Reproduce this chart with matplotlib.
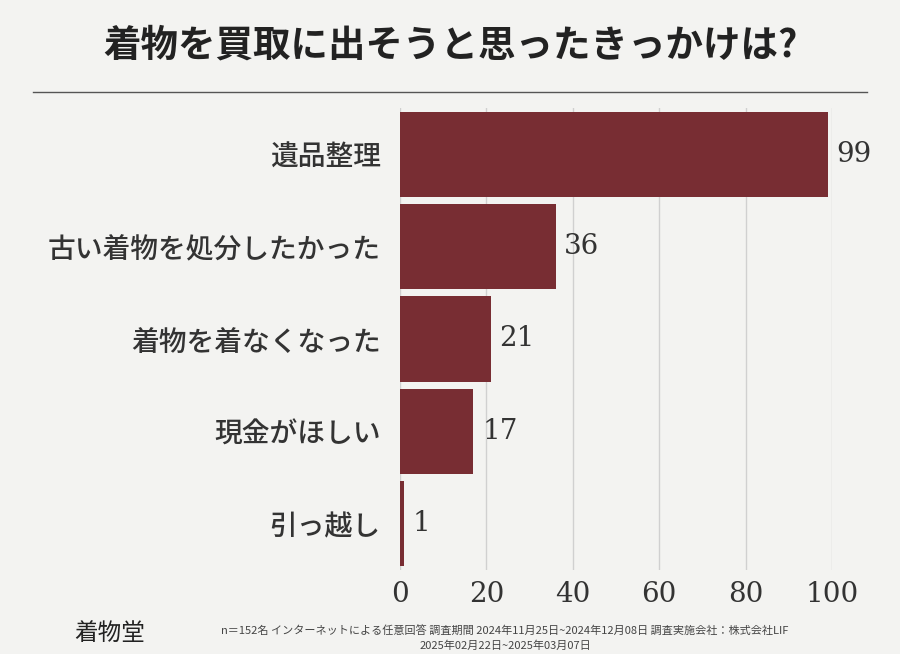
import matplotlib
matplotlib.use("Agg")
import matplotlib.pyplot as plt

categories = ["遺品整理", "古い着物を処分したかった", "着物を着なくなった", "現金がほしい", "引っ越し"]
values = [99, 36, 21, 17, 1]
xticks = [0, 20, 40, 60, 80, 100]

JP = "Noto Sans CJK JP"
bg = "#f3f3f1"
fig = plt.figure(figsize=(9, 6.54), dpi=100, facecolor=bg)
ax = fig.add_axes([400/900, 1-570/654, 432/900, 462/654], facecolor=bg)
y = list(range(len(categories)))
ax.barh(y, values, height=0.92, color="#782d33", zorder=3)
ax.set_ylim(len(categories)-0.5, -0.5)
ax.set_xlim(0, 100)
ax.set_xticks(xticks)
ax.set_xticklabels([str(t) for t in xticks], fontsize=20, color="#333", family="DejaVu Serif")
ax.set_yticks(y)
ax.set_yticklabels(categories, fontsize=20, color="#333", family=JP, fontweight="medium")
ax.tick_params(length=0, pad=14)
ax.tick_params(axis="x", pad=8)
for s in ax.spines.values():
    s.set_visible(False)
ax.grid(axis="x", color="#d0d0d0", lw=1, zorder=0)
for i, v in enumerate(values):
    ax.text(v + 2, i, str(v), va="center", ha="left", fontsize=20, color="#333", family="DejaVu Serif")

fig.text(0.5, 1-45/654, "着物を買取に出そうと思ったきっかけは?", ha="center", va="center",
         fontsize=27, fontweight="bold", family=JP, color="#222")
fig.add_artist(plt.Line2D([33/900, 867/900], [1-92/654, 1-92/654], color="#555", lw=1))
fig.text(110/900, 1-633/654, "着物堂", ha="center", va="center", fontsize=17, family=JP, color="#222")
fig.text(505/900, 1-630/654, "n＝152名 インターネットによる任意回答 調査期間 2024年11月25日~2024年12月08日 調査実施会社：株式会社LIF",
         ha="center", va="center", fontsize=8, family=JP, color="#444")
fig.text(505/900, 1-646/654, "2025年02月22日~2025年03月07日", ha="center", va="center", fontsize=8, family=JP, color="#444")
fig.savefig("out.png", dpi=100, facecolor=bg)
